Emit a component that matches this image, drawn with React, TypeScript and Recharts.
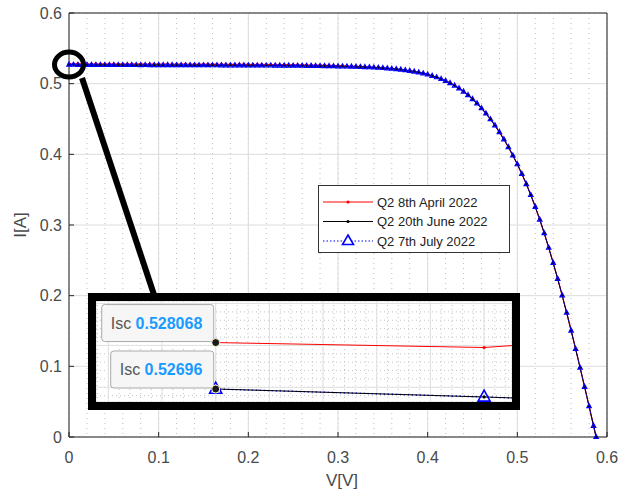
import React from 'react';
import { LineChart, Line, XAxis, YAxis, CartesianGrid, ReferenceDot, ReferenceLine } from 'recharts';

// terminal voltage (V)
const voltage = [
  0, 0.005, 0.01, 0.015, 0.02, 0.025, 0.03, 0.035, 0.04, 0.045,
  0.05, 0.055, 0.06, 0.065, 0.07, 0.075, 0.08, 0.085, 0.09, 0.095,
  0.1, 0.105, 0.11, 0.115, 0.12, 0.125, 0.13, 0.135, 0.14, 0.145,
  0.15, 0.155, 0.16, 0.165, 0.17, 0.175, 0.18, 0.185, 0.19, 0.195,
  0.2, 0.205, 0.21, 0.215, 0.22, 0.225, 0.23, 0.235, 0.24, 0.245,
  0.25, 0.255, 0.26, 0.265, 0.27, 0.275, 0.28, 0.285, 0.29, 0.295,
  0.3, 0.305, 0.31, 0.315, 0.32, 0.325, 0.33, 0.335, 0.34, 0.345,
  0.35, 0.355, 0.36, 0.365, 0.37, 0.375, 0.38, 0.385, 0.39, 0.395,
  0.4, 0.405, 0.41, 0.415, 0.42, 0.425, 0.43, 0.435, 0.44, 0.445,
  0.45, 0.455, 0.46, 0.465, 0.47, 0.475, 0.48, 0.485, 0.49, 0.495,
  0.5, 0.505, 0.51, 0.515, 0.52, 0.525, 0.53, 0.535, 0.54, 0.545,
  0.55, 0.555, 0.56, 0.565, 0.57, 0.575, 0.58, 0.585, 0.5879,
];

// current (A), Q2 8th April 2022
const iApril = [
  0.528068, 0.52795, 0.5284, 0.52778, 0.5281, 0.52772, 0.52803, 0.52769, 0.52796, 0.52775,
  0.52801, 0.52762, 0.52794, 0.52768, 0.52789, 0.5276, 0.52792, 0.52757, 0.52785, 0.52761,
  0.52779, 0.52755, 0.52782, 0.5275, 0.52773, 0.52752, 0.52769, 0.52745, 0.52771, 0.52742,
  0.52762, 0.52738, 0.52758, 0.52735, 0.52751, 0.52731, 0.52745, 0.52726, 0.52741, 0.52719,
  0.52733, 0.52712, 0.52726, 0.52704, 0.52716, 0.52697, 0.52707, 0.52687, 0.52696, 0.52676,
  0.52683, 0.52661, 0.52664, 0.52644, 0.52642, 0.52622, 0.52614, 0.52596, 0.52584, 0.52562,
  0.52546, 0.52521, 0.52498, 0.52474, 0.52449, 0.52421, 0.5239, 0.52357, 0.52321, 0.5228,
  0.52235, 0.52186, 0.5213, 0.52068, 0.51997, 0.51916, 0.51826, 0.51722, 0.51602, 0.51462,
  0.51302, 0.51121, 0.50912, 0.50672, 0.50401, 0.50092, 0.49742, 0.49341, 0.48893, 0.48392,
  0.47832, 0.47212, 0.46532, 0.45792, 0.44982, 0.44102, 0.43152, 0.42132, 0.41032, 0.39852,
  0.38602, 0.37252, 0.35802, 0.34252, 0.32572, 0.30772, 0.28842, 0.26792, 0.24642, 0.22392,
  0.20042, 0.17592, 0.15062, 0.12462, 0.09802, 0.07102, 0.04362, 0.01592, 0,
];

// current (A), Q2 20th June 2022
const iJune = [
  0.52696, 0.52677, 0.52655, 0.52664, 0.52658, 0.52663, 0.52656, 0.5266, 0.52653, 0.52657,
  0.5265, 0.52654, 0.52647, 0.5265, 0.52643, 0.52647, 0.5264, 0.52643, 0.52636, 0.5264,
  0.52633, 0.52636, 0.52629, 0.52632, 0.52625, 0.52628, 0.52621, 0.52624, 0.52617, 0.52619,
  0.52612, 0.52615, 0.52608, 0.5261, 0.52603, 0.52605, 0.52598, 0.526, 0.52593, 0.52594,
  0.52587, 0.52588, 0.52581, 0.52582, 0.52575, 0.52575, 0.52568, 0.52567, 0.5256, 0.52558,
  0.5255, 0.52547, 0.52538, 0.52533, 0.52524, 0.52517, 0.52506, 0.52498, 0.52486, 0.52476,
  0.52464, 0.5245, 0.52435, 0.52418, 0.52399, 0.52378, 0.52354, 0.52327, 0.52297, 0.52262,
  0.52222, 0.52177, 0.52125, 0.52065, 0.51995, 0.51915, 0.51825, 0.5172, 0.516, 0.5146,
  0.513, 0.5112, 0.5091, 0.5067, 0.504, 0.5009, 0.4974, 0.4934, 0.4889, 0.4839,
  0.4783, 0.4721, 0.4653, 0.4579, 0.4498, 0.441, 0.4315, 0.4213, 0.4103, 0.3985,
  0.386, 0.3725, 0.358, 0.3425, 0.3257, 0.3077, 0.2884, 0.2679, 0.2464, 0.2239,
  0.2004, 0.1759, 0.1506, 0.1246, 0.098, 0.071, 0.0436, 0.0159, 0,
];

// current (A), Q2 7th July 2022
const iJuly = [
  0.52696, 0.52677, 0.52654, 0.52663, 0.52658, 0.52662, 0.52656, 0.52659, 0.52653, 0.52656,
  0.5265, 0.52653, 0.52647, 0.52649, 0.52643, 0.52646, 0.5264, 0.52642, 0.52636, 0.52639,
  0.52633, 0.52635, 0.52629, 0.52631, 0.52625, 0.52627, 0.52621, 0.52623, 0.52617, 0.52618,
  0.52612, 0.52614, 0.52608, 0.52609, 0.52603, 0.52604, 0.52598, 0.52599, 0.52593, 0.52593,
  0.52587, 0.52587, 0.52581, 0.52581, 0.52575, 0.52574, 0.52568, 0.52566, 0.5256, 0.52557,
  0.5255, 0.52546, 0.52538, 0.52532, 0.52524, 0.52516, 0.52506, 0.52497, 0.52486, 0.52475,
  0.52463, 0.52449, 0.52434, 0.52417, 0.52398, 0.52377, 0.52353, 0.52326, 0.52296, 0.52261,
  0.52221, 0.52176, 0.52124, 0.52064, 0.51994, 0.51914, 0.51824, 0.51719, 0.51599, 0.51459,
  0.51299, 0.51119, 0.50909, 0.50669, 0.50399, 0.50089, 0.49739, 0.49339, 0.48889, 0.48389,
  0.47829, 0.47209, 0.46529, 0.45789, 0.44979, 0.44099, 0.43149, 0.42129, 0.41029, 0.39849,
  0.38599, 0.37249, 0.35799, 0.34249, 0.32569, 0.30769, 0.28839, 0.26789, 0.24639, 0.22389,
  0.20039, 0.17589, 0.15059, 0.12459, 0.09799, 0.07099, 0.04359, 0.01589, 0,
];

const seriesNames = ['Q2 8th April 2022', 'Q2 20th June 2022', 'Q2 7th July 2022'];

const majorTicks = [0, 0.1, 0.2, 0.3, 0.4, 0.5, 0.6];
const minorTicks = [
  0, 0.02, 0.04, 0.06, 0.08, 0.1, 0.12, 0.14, 0.16, 0.18, 0.2, 0.22, 0.24, 0.26, 0.28, 0.3,
  0.32, 0.34, 0.36, 0.38, 0.4, 0.42, 0.44, 0.46, 0.48, 0.5, 0.52, 0.54, 0.56, 0.58, 0.6,
];

// zoomed inset around V = 0
const insetXDomain = [-0.00223, 0.00552];
const insetYDomain = [0.52665, 0.52906];
const insetXTicks = [-0.002, -0.001, 0, 0.001, 0.002, 0.003, 0.004, 0.005];
const insetYTicks = [0.527, 0.528, 0.529];
const insetXMinor = [
  -0.0022, -0.002, -0.0018, -0.0016, -0.0014, -0.0012, -0.001, -0.0008, -0.0006, -0.0004, -0.0002,
  0, 0.0002, 0.0004, 0.0006, 0.0008, 0.001, 0.0012, 0.0014, 0.0016, 0.0018, 0.002, 0.0022, 0.0024,
  0.0026, 0.0028, 0.003, 0.0032, 0.0034, 0.0036, 0.0038, 0.004, 0.0042, 0.0044, 0.0046, 0.0048,
  0.005, 0.0052, 0.0054,
];
const insetYMinor = [0.5268, 0.527, 0.5272, 0.5274, 0.5276, 0.5278, 0.528, 0.5282, 0.5284, 0.5286, 0.5288, 0.529];

// callout pointer from the circle to the inset
const calloutStart = { x: 0.0145, y: 0.508 };
const calloutEnd = { x: 0.0962, y: 0.196 };

const data = voltage.map((v, i) => ({ v, april: iApril[i], june: iJune[i], july: iJuly[i] }));

const FONT = '"Liberation Sans", Arial, Helvetica, sans-serif';
const AXIS = '#262626';
const TICK_TEXT = '#4a4a4a';

const triangleDot = (size: number, sw: number) => (p: any) => {
  const { cx, cy, index } = p;
  if (cx == null || cy == null) return <g key={`t${index}`} />;
  const d = `M${cx},${cy - size * 0.62} L${cx + size * 0.55},${cy + size * 0.38} L${cx - size * 0.55},${cy + size * 0.38} Z`;
  return <path key={`t${index}`} d={d} fill="none" stroke="#0000ff" strokeWidth={sw} />;
};

// MATLAB style datatip on the first point of a series, small markers elsewhere
const tipDot = (color: string, boxW: number, value: number) => (p: any) => {
  const { cx, cy, index } = p;
  if (cx == null || cy == null) return <g key={`d${index}`} />;
  if (index !== 0) return <circle key={`d${index}`} cx={cx} cy={cy} r={1.6} fill={color} />;
  return (
    <g key="tip">
      <rect x={cx - boxW - 2} y={cy - 38} width={boxW} height={37} rx={3} fill="#f6f6f6" stroke="#a9a9a9" />
      <text x={cx - boxW + 7} y={cy - 14} fontSize={16} fontFamily={FONT} fill="#555">
        Isc <tspan fill="#1a9bff" fontWeight="bold">{String(value)}</tspan>
      </text>
      <circle cx={cx} cy={cy} r={4} fill="#1a1a1a" stroke="#fffbd0" strokeWidth={1} />
    </g>
  );
};

function LegendBox() {
  const rows = [
    { name: seriesNames[0], color: '#ff0000' },
    { name: seriesNames[1], color: '#000000' },
    { name: seriesNames[2], color: '#0000ff' },
  ];
  return (
    <svg width={192} height={68} style={{ position: 'absolute', left: 318, top: 185 }}>
      <rect x={0.5} y={0.5} width={191} height={67} fill="#fff" stroke="#333" />
      {rows.map((r, i) => {
        const y = 17 + i * 19.5;
        return (
          <g key={r.name}>
            <line x1={5} x2={55} y1={y} y2={y} stroke={r.color} strokeWidth={1} strokeDasharray={i === 2 ? '1.5 2' : undefined} />
            {i < 2 ? (
              <circle cx={30} cy={y} r={1.6} fill={r.color} />
            ) : (
              <path d={`M30,${y - 6} L35.5,${y + 3.5} L24.5,${y + 3.5} Z`} fill="#fff" stroke="#0000ff" strokeWidth={1.6} />
            )}
            <text x={59} y={y + 4.5} fontSize={13} fontFamily={FONT} fill="#222">{r.name}</text>
          </g>
        );
      })}
    </svg>
  );
}

function Inset() {
  return (
    <div
      style={{
        position: 'absolute', left: 88, top: 293, width: 432, height: 117,
        border: '8px solid #000', boxSizing: 'border-box', background: '#fff', overflow: 'hidden',
      }}
    >
      <LineChart width={416} height={101} data={data} margin={{ top: 0, right: 0, bottom: 0, left: 0 }}>
        <XAxis xAxisId="minor" dataKey="v" type="number" domain={insetXDomain} ticks={insetXMinor} interval={0} allowDataOverflow hide />
        <YAxis yAxisId="minor" type="number" domain={insetYDomain} ticks={insetYMinor} interval={0} allowDataOverflow hide />
        <XAxis dataKey="v" type="number" domain={insetXDomain} ticks={insetXTicks} interval={0} allowDataOverflow hide />
        <YAxis type="number" domain={insetYDomain} ticks={insetYTicks} interval={0} allowDataOverflow hide />
        <CartesianGrid xAxisId="minor" yAxisId="minor" stroke="#c4c4c4" strokeDasharray="1 3" />
        <CartesianGrid stroke="#e0e0e0" />
        <Line dataKey="april" stroke="#ff0000" strokeWidth={1} dot={tipDot('#ff0000', 112, iApril[0])} isAnimationActive={false} />
        <Line dataKey="july" stroke="#0000ff" strokeWidth={1.3} strokeDasharray="1.5 2.5" dot={triangleDot(11, 1.6)} isAnimationActive={false} />
        <Line dataKey="june" stroke="#000000" strokeWidth={1} dot={tipDot('#000000', 103, iJune[0])} isAnimationActive={false} />
      </LineChart>
    </div>
  );
}

export default function App() {
  return (
    <div style={{ position: 'absolute', left: 0, top: 0, width: 618, height: 493, background: '#fff', fontFamily: FONT }}>
      <LineChart width={618} height={493} data={data} margin={{ top: 0, right: 0, bottom: 0, left: 0 }}>
        <XAxis xAxisId="minor" dataKey="v" type="number" domain={[0, 0.6]} ticks={minorTicks} interval={0} hide />
        <YAxis yAxisId="minor" type="number" domain={[0, 0.6]} ticks={minorTicks} interval={0} hide />
        <XAxis
          dataKey="v" type="number" domain={[0, 0.6]} ticks={majorTicks} interval={0} height={56}
          stroke={AXIS} tickSize={-5} tickMargin={20}
          tick={{ fill: TICK_TEXT, fontSize: 16, fontFamily: FONT }}
          label={{
            content: (p: any) => (
              <text x={p.viewBox.x + p.viewBox.width / 2 + 4} y={p.viewBox.y + 49} textAnchor="middle" fontSize={17} fontFamily={FONT} fill={TICK_TEXT}>V[V]</text>
            ),
          }}
        />
        <YAxis
          type="number" domain={[0, 0.6]} ticks={majorTicks} interval={0} width={69}
          stroke={AXIS} tickSize={-5} tickMargin={12}
          tick={{ fill: TICK_TEXT, fontSize: 16, fontFamily: FONT }}
          label={{
            content: (p: any) => {
              const x = p.viewBox.x + 20;
              const y = p.viewBox.y + p.viewBox.height / 2;
              return <text x={x} y={y} transform={`rotate(-90 ${x} ${y})`} textAnchor="middle" dominantBaseline="central" fontSize={17} fontFamily={FONT} fill={TICK_TEXT}>I[A]</text>;
            },
          }}
        />
        <XAxis xAxisId="top" orientation="top" dataKey="v" type="number" domain={[0, 0.6]} ticks={majorTicks} interval={0} height={13} stroke={AXIS} tickSize={-5} tick={false} />
        <YAxis yAxisId="right" orientation="right" type="number" domain={[0, 0.6]} ticks={majorTicks} interval={0} width={11} stroke={AXIS} tickSize={-5} tick={false} />
        <CartesianGrid xAxisId="minor" yAxisId="minor" stroke="#bdbdbd" strokeDasharray="1 4" />
        <CartesianGrid stroke="#dcdcdc" />
        <Line dataKey="april" name={seriesNames[0]} stroke="#ff0000" strokeWidth={1.2} dot={{ r: 1.5, fill: '#ff0000', stroke: 'none' }} isAnimationActive={false} />
        <Line dataKey="june" name={seriesNames[1]} stroke="#000000" strokeWidth={1} dot={{ r: 1.3, fill: '#000000', stroke: 'none' }} isAnimationActive={false} />
        <Line dataKey="july" name={seriesNames[2]} stroke="#0000ff" strokeWidth={1} strokeDasharray="1.5 2" dot={triangleDot(4, 1.2)} isAnimationActive={false} />
        <ReferenceDot
          x={0} y={iJune[0]} ifOverflow="visible"
          shape={(p: any) => <ellipse cx={p.cx} cy={p.cy} rx={14.5} ry={12.5} fill="none" stroke="#000" strokeWidth={5} />}
        />
        <ReferenceLine segment={[calloutStart, calloutEnd]} stroke="#000" strokeWidth={6} ifOverflow="visible" />
      </LineChart>
      <LegendBox />
      <Inset />
    </div>
  );
}
